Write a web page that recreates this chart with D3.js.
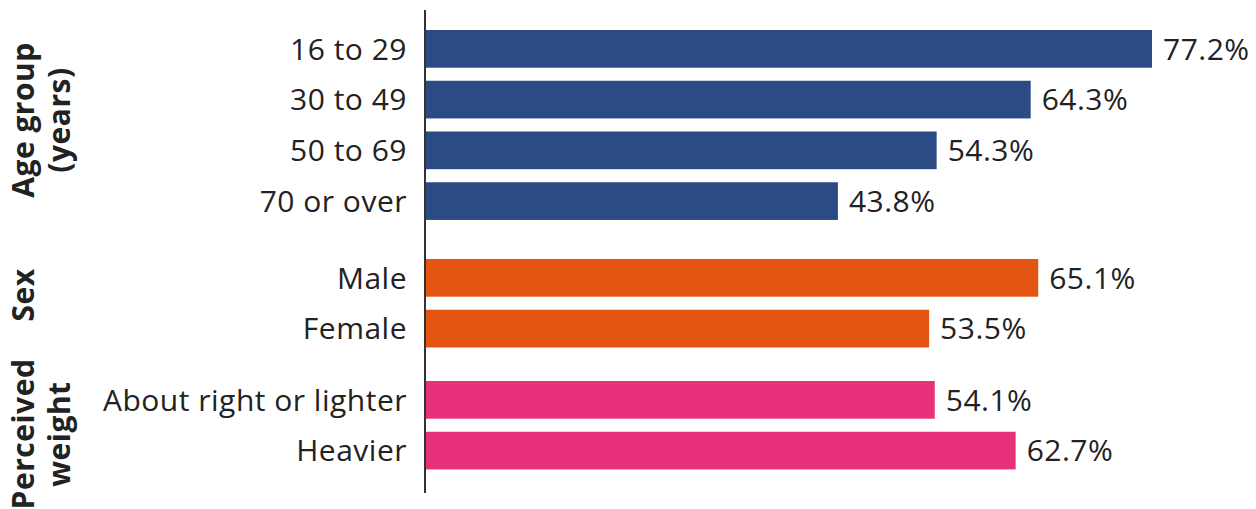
<!DOCTYPE html>
<html>
<head>
<meta charset="utf-8">
<script src="https://cdn.jsdelivr.net/npm/d3@7"></script>
<style>
  html, body { margin: 0; padding: 0; background: #fff; }
  svg { display: block; font-family: "Open Sans", "Noto Sans", sans-serif; }
</style>
</head>
<body>
<svg id="chart" width="1256" height="509"></svg>
<script>
// Share of respondents, by characteristic
const ageLabels = ["16 to 29", "30 to 49", "50 to 69", "70 or over"];
const ageValues = [77.2, 64.3, 54.3, 43.8];

const sexLabels = ["Male", "Female"];
const sexValues = [65.1, 53.5];

const weightLabels = ["About right or lighter", "Heavier"];
const weightValues = [54.1, 62.7];

const groupTitles = [["Age group", "(years)"], ["Sex"], ["Perceived", "weight"]];
const groupColors = ["#2c4a84", "#e45512", "#e8317a"];

// Flatten the groups into one row list
const groups = [
  { labels: ageLabels, values: ageValues },
  { labels: sexLabels, values: sexValues },
  { labels: weightLabels, values: weightValues }
];
const rows = [];
groups.forEach((g, gi) => {
  g.labels.forEach((lab, i) => rows.push({ label: lab, value: g.values[i], group: gi, idx: rows.length }));
});

const svg = d3.select("#chart");

// Layout
const axisX = 426;
const x = d3.scaleLinear().domain([0, 77.2]).range([axisX, 1152]);
const pitch = 50.75;
const barH = 37.7;
const top0 = 30;
const groupOffset = [0, 26, 46.5];
const rowY = d => top0 + d.idx * pitch + groupOffset[d.group];

const textColor = "#222222";
const fontSize = 30;
const spacing = 0.5;

// Bars
svg.append("g").selectAll("rect")
  .data(rows)
  .join("rect")
  .attr("x", x(0))
  .attr("y", d => rowY(d))
  .attr("width", d => x(d.value) - x(0))
  .attr("height", barH)
  .attr("fill", d => groupColors[d.group]);

// Category labels
svg.append("g").selectAll("text")
  .data(rows)
  .join("text")
  .attr("x", 407)
  .attr("y", d => rowY(d) + barH / 2)
  .attr("dy", "0.36em")
  .attr("text-anchor", "end")
  .attr("font-size", fontSize)
  .attr("letter-spacing", spacing)
  .attr("fill", textColor)
  .text(d => d.label);

// Value labels
svg.append("g").selectAll("text")
  .data(rows)
  .join("text")
  .attr("x", d => x(d.value) + 11)
  .attr("y", d => rowY(d) + barH / 2)
  .attr("dy", "0.36em")
  .attr("font-size", fontSize)
  .attr("letter-spacing", spacing)
  .attr("fill", textColor)
  .text(d => d3.format(".1f")(d.value) + "%");

// Vertical axis line
svg.append("line")
  .attr("x1", axisX - 1).attr("x2", axisX - 1)
  .attr("y1", 10).attr("y2", 493)
  .attr("stroke", "#333")
  .attr("stroke-width", 2);

// Rotated group titles
const titleCenters = [120, 295, 434];
groupTitles.forEach((lines, gi) => {
  const t = svg.append("text")
    .attr("transform", `translate(0,${titleCenters[gi]}) rotate(-90)`)
    .attr("text-anchor", "middle")
    .attr("font-size", fontSize)
    .attr("font-weight", "bold")
    .attr("letter-spacing", spacing)
    .attr("fill", textColor);
  lines.forEach((line, li) => {
    t.append("tspan")
      .attr("x", 0)
      .attr("y", 34 + li * 36)
      .text(line);
  });
});
</script>
</body>
</html>
